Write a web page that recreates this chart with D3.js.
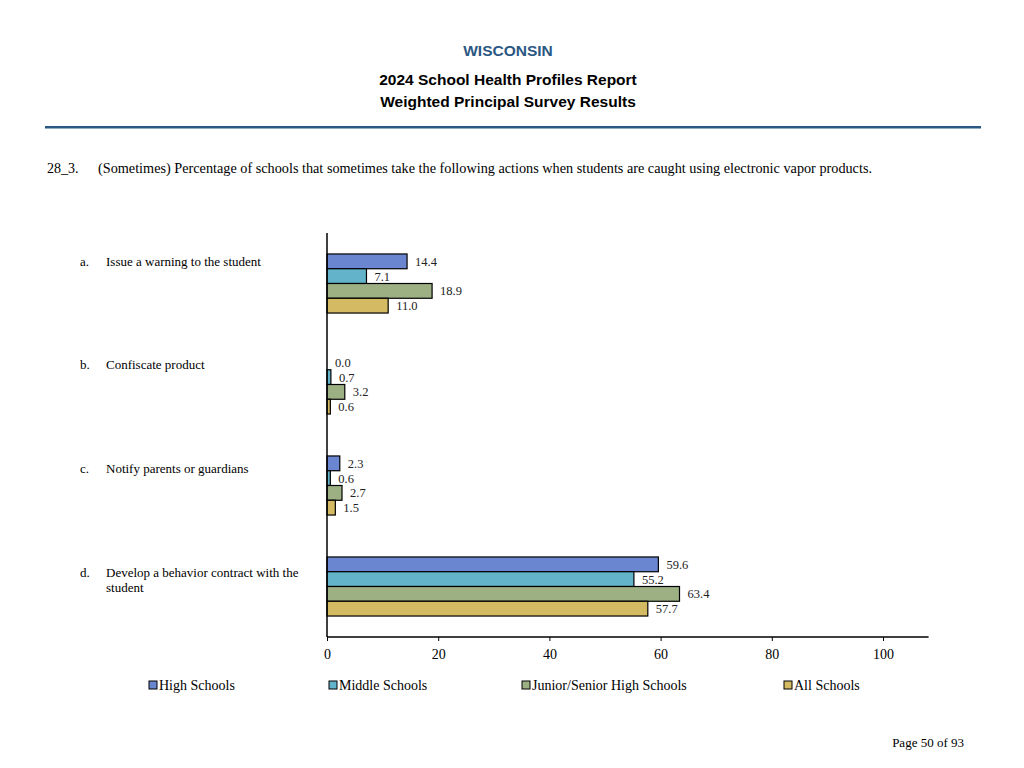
<!DOCTYPE html>
<html><head><meta charset="utf-8">
<script src="https://cdn.jsdelivr.net/npm/d3@7"></script>
<style>body{margin:0;background:#fff}</style>
</head><body>
<svg id="c" width="1024" height="768"></svg>
<script>
const letters = ["a.", "b.", "c.", "d."];
const categories = [
  ["Issue a warning to the student"],
  ["Confiscate product"],
  ["Notify parents or guardians"],
  ["Develop a behavior contract with the", "student"]
];
const seriesNames = ["High Schools", "Middle Schools", "Junior/Senior High Schools", "All Schools"];
const seriesColors = ["#6b86d0", "#63b3cb", "#9cb084", "#d4ba63"];
const highSchools = [14.4, 0.0, 2.3, 59.6];
const middleSchools = [7.1, 0.7, 0.6, 55.2];
const juniorSenior = [18.9, 3.2, 2.7, 63.4];
const allSchools = [11.0, 0.6, 1.5, 57.7];
const xTicks = [0, 20, 40, 60, 80, 100];

const values = [highSchools, middleSchools, juniorSenior, allSchools];
const svg = d3.select("#c");
const serif = "'Liberation Serif','Times New Roman',serif";
const sans = "'Liberation Sans',Arial,sans-serif";

// header
const head = (t, y, col) => svg.append("text").attr("x", 508).attr("y", y).attr("text-anchor", "middle")
  .attr("font-family", sans).attr("font-weight", "bold").attr("font-size", 15.5).attr("fill", col).text(t);
head("WISCONSIN", 55.5, "#2b5783");
head("2024 School Health Profiles Report", 84.5, "#000");
head("Weighted Principal Survey Results", 106.5, "#000");
svg.append("rect").attr("x", 45).attr("y", 126).attr("width", 936).attr("height", 2.5).attr("fill", "#2b5783");

svg.append("text").attr("x", 47).attr("y", 173).attr("font-family", serif).attr("font-size", 14).text("28_3.");
svg.append("text").attr("x", 98).attr("y", 173).attr("font-family", serif).attr("font-size", 14)
  .attr("textLength", 774).attr("lengthAdjust", "spacingAndGlyphs")
  .text("(Sometimes) Percentage of schools that sometimes take the following actions when students are caught using electronic vapor products.");

// scales
const x = d3.scaleLinear().domain([0, 100]).range([327, 883]);
const y0 = d3.scaleBand().domain(d3.range(categories.length)).range([233, 637]).padding(0);
const y1 = d3.scaleBand().domain(d3.range(seriesNames.length)).range([0, y0.bandwidth()]).paddingInner(0).paddingOuter(1.42);
const yLabel = d3.scalePoint().domain(d3.range(categories.length)).range([265.5, 576.5]);

const g = svg.append("g");
categories.forEach((cat, i) => {
  const gy = y0(i);
  values.forEach((arr, s) => {
    const v = arr[i];
    const by = gy + y1(s);
    g.append("rect").attr("x", x(0)).attr("y", by)
      .attr("width", Math.max(0, x(v) - x(0))).attr("height", y1.bandwidth())
      .attr("fill", seriesColors[s]).attr("stroke", "#000").attr("stroke-width", 1.2);
    g.append("text").attr("x", x(v) + 8).attr("y", by + y1.bandwidth() / 2 + 4.5)
      .attr("font-family", serif).attr("font-size", 12.5).attr("fill", "#222").text(v.toFixed(1));
  });
  const ly = yLabel(i);
  g.append("text").attr("x", 80).attr("y", ly).attr("font-family", serif).attr("font-size", 13).text(letters[i]);
  cat.forEach((line, k) => {
    g.append("text").attr("x", 106).attr("y", ly + k * 15.5).attr("font-family", serif).attr("font-size", 13).text(line);
  });
});

// axes
svg.append("line").attr("x1", x(0)).attr("x2", x(0)).attr("y1", 233).attr("y2", 637).attr("stroke", "#000").attr("stroke-width", 1.5);
const xAxis = svg.append("g").attr("transform", "translate(0,637)")
  .call(d3.axisBottom(x).tickValues(xTicks).tickSize(4).tickSizeOuter(0).tickPadding(8));
xAxis.select(".domain").remove();
xAxis.append("line").attr("x1", x(0)).attr("x2", x(108.2)).attr("stroke", "#000").attr("stroke-width", 1.5);
xAxis.selectAll(".tick text").attr("font-family", serif).attr("font-size", 14).attr("fill", "#000");

// legend
const legendX = [149, 329, 522, 784];
seriesNames.forEach((n, s) => {
  svg.append("rect").attr("x", legendX[s]).attr("y", 681).attr("width", 8).attr("height", 8)
    .attr("fill", seriesColors[s]).attr("stroke", "#000").attr("stroke-width", 1);
  svg.append("text").attr("x", legendX[s] + 10).attr("y", 690).attr("font-family", serif).attr("font-size", 14).text(n);
});

svg.append("text").attr("x", 964).attr("y", 747).attr("text-anchor", "end").attr("font-family", serif).attr("font-size", 13).text("Page 50 of 93");
</script>
</body></html>
